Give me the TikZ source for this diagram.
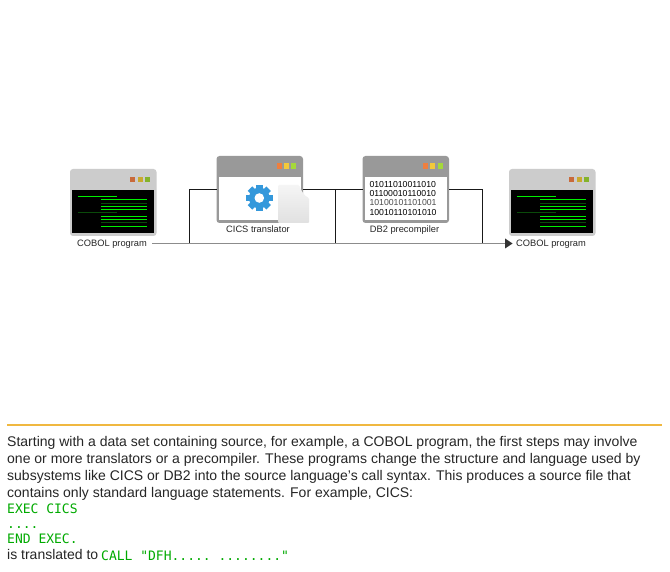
\documentclass[tikz,border=0pt]{standalone}
\usepackage{fontspec}
\setmainfont{Liberation Sans}
\setmonofont{DejaVu Sans Mono}
\definecolor{codegreen}{HTML}{00AA00}
\definecolor{rulegold}{HTML}{F0B840}
\definecolor{phos}{HTML}{00F000}
\definecolor{phosdim}{HTML}{0A4A0A}
\definecolor{gearblue}{HTML}{3498DB}
\definecolor{btnra}{HTML}{C96A3A}
\definecolor{btnya}{HTML}{C9A92E}
\definecolor{btnga}{HTML}{84B32A}
\definecolor{btnrb}{HTML}{EF7F3F}
\definecolor{btnyb}{HTML}{F3C93A}
\definecolor{btngb}{HTML}{A5D93A}
\tikzset{
  winbox/.style={draw=none,fill=#1,rounded corners=3pt,minimum width=86.5pt,minimum height=67pt,inner sep=0pt,outer sep=0pt,anchor=north west},
  captext/.style={font=\fontsize{9.3}{11}\selectfont,text=black!85,inner sep=0pt,anchor=base},
  para/.style={font=\fontsize{14}{16}\selectfont,text=black!85,inner sep=0pt,anchor=base west},
  code/.style={font=\ttfamily\fontsize{13}{15}\selectfont,text=codegreen,inner sep=0pt,anchor=base west},
  bin/.style={font=\fontsize{8.7}{10}\selectfont,text=black,inner sep=0pt,anchor=base west},
  flow/.style={draw=black!45,line width=1pt},
  branch/.style={draw=black!90,line width=1pt},
  scr/.style={line width=1.1pt},
}
\newcommand{\terminal}[2]{%
  \begin{scope}[shift={(#1,#2)}]
    \fill[black] (2.4,21) rectangle (83.6,64.3);
    \fill[btnra] (60,8) rectangle ++(5.2,5.2);
    \fill[btnya] (67.6,8) rectangle ++(5.2,5.2);
    \fill[btnga] (75,8) rectangle ++(5.2,5.2);
    \draw[scr,phos] (8,27.5) -- (47,27.5);
    \draw[scr,phos] (31,30.5) -- (77.3,30.5);
    \draw[scr,phosdim] (31,34.5) -- (77.3,34.5);
    \draw[scr,phos] (31,37.5) -- (77.3,37.5);
    \draw[scr,phos] (31,40.5) -- (77.3,40.5);
    \draw[scr,phosdim] (8,43.5) -- (47,43.5);
    \draw[scr,phos] (31,47.5) -- (77.3,47.5);
    \draw[scr,phos] (31,50.5) -- (77.3,50.5);
    \draw[scr,phosdim] (31,53.5) -- (77.3,53.5);
    \draw[scr,phos] (31,57.5) -- (77.3,57.5);
  \end{scope}}
\begin{document}
\begin{tikzpicture}[x=1pt,y=-1pt]
\useasboundingbox (0,0) rectangle (670,572);
\fill[white] (0,0) rectangle (670,572);

% captions
\node[captext] (capa) at (112,247) {COBOL program};
\node[captext] (capd) at (551,247) {COBOL program};
\node[captext] (capb) at (258,232.5) {CICS translator};
\node[captext] (capc) at (404.5,232.5) {DB2 precompiler};

% windows
\node[winbox=black!20] (wina) at (70,169) {};
\node[winbox=black!40] (winb) at (216.5,156) {};
\node[winbox=black!40] (winc) at (362.5,156) {};
\node[winbox=black!20] (wind) at (509,169) {};

% connectors
\coordinate (splitb) at (189.5,243.5);
\coordinate (splitc) at (335.5,243.5);
\coordinate (splitd) at (482.5,243.5);
\coordinate (flowstart) at (152,243.5);
\coordinate (flowend) at (505.5,243.5);
\draw[branch] (splitb) |- (216.5,189.5);
\draw[branch] (splitc) -- (335.5,189.5);
\draw[branch] (303,189.5) -- (362.5,189.5);
\draw[branch] (449,189.5) -| (splitd);
\draw[flow] (flowstart) -- (flowend);
\fill[black!80] (505,238.5) -- (512.5,243.5) -- (505,248.5) -- cycle;

% terminal windows
\terminal{70}{169}
\terminal{509}{169}

% CICS window
\fill[white] (219,177) rectangle (300.5,220);
\fill[btnrb] (276.5,163.5) rectangle ++(5.3,5.3);
\fill[btnyb] (284,163.5) rectangle ++(5.3,5.3);
\fill[btngb] (291,163.5) rectangle ++(5.3,5.3);
\begin{scope}[shift={(259.3,198)}]
  \foreach \a in {0,45,...,315}{
    \fill[gearblue,rotate=\a] (-3.2,-13.2) rectangle (3.2,-6);
  }
  \fill[gearblue] (0,0) circle (10.4);
  \fill[white] (0,0) circle (4.8);
\end{scope}
\shade[top color=black!4,bottom color=black!12,rounded corners=1pt] (278,223) -- (278,185) -- (299,185) .. controls (301,190) and (304,196) .. (309,198) -- (309,223) -- cycle;

% DB2 window
\fill[white] (365,177) rectangle (446.5,220);
\fill[btnrb] (422.5,163.5) rectangle ++(5.3,5.3);
\fill[btnyb] (430,163.5) rectangle ++(5.3,5.3);
\fill[btngb] (437.5,163.5) rectangle ++(5.3,5.3);
\node[bin] (bina) at (369.3,187.5) {01011010011010};
\node[bin] (binb) at (369.3,196.5) {01100010110010};
\node[bin,text=black!70] (binc) at (369.3,205.5) {10100101101001};
\node[bin] (bind) at (369.3,215.7) {10010110101010};

% rule
\draw[rulegold,line width=2pt] (7,425) -- (662,425);

% text
\node[para] (pa) at (7,446) {Starting with a data set containing source, for example, a COBOL program, the first steps may involve};
\node[para] (pb) at (7,463) {one or more translators or a precompiler. These programs change the structure and language used by};
\node[para] (pc) at (7,480) {subsystems like CICS or DB2 into the source language's call syntax. This produces a source file that};
\node[para] (pd) at (7,497) {contains only standard language statements. For example, CICS:};
\node[code] (ca) at (7,513.5) {EXEC CICS};
\node[code] (cb) at (7,528.5) {....};
\node[code] (cc) at (7,543.5) {END EXEC.};
\node[para] (pe) at (7,559.5) {is translated to};
\node[code] (cd) at (101,560.5) {CALL "DFH..... ........"};
\end{tikzpicture}
\end{document}
